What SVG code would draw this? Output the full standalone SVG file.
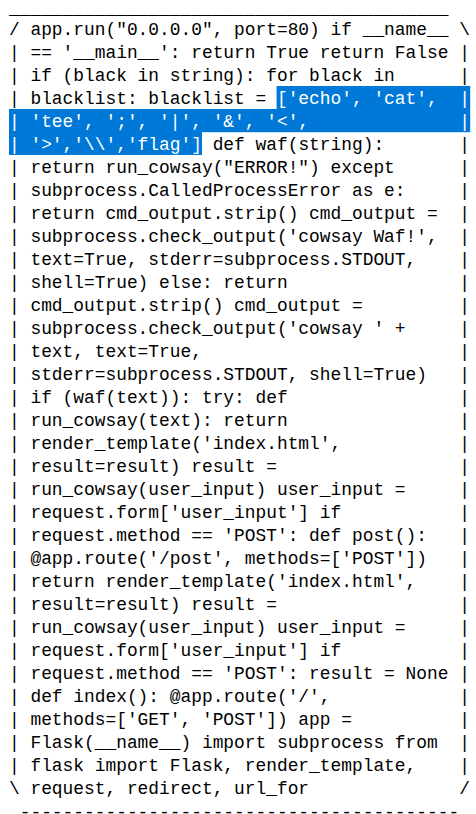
<svg xmlns="http://www.w3.org/2000/svg" width="476" height="814" viewBox="0 0 476 814" xml:space="preserve">
<style>
text { font-family: "Liberation Mono", "DejaVu Sans Mono", monospace; font-size: 17.87px; fill: #000; white-space: pre; }
.w { fill: #fff; }
.sel { fill: #0078D7; }
</style>
<rect x="0" y="0" width="476" height="814" fill="#fff"/>
<g id="selection">
<rect class="sel" x="276.6" y="86" width="193.6" height="23.2"/>
<rect class="sel" x="9" y="109" width="461.2" height="23.2"/>
<rect class="sel" x="9" y="132" width="193" height="23"/>
</g>
<g id="bubble-text">
<text x="9" y="14">_________________________________________</text>
<text x="9" y="35">/ app.run("0.0.0.0", port=80) if __name__</text><text x="459.24" y="35">\</text>
<text x="9" y="58">| == '__main__': return True return False</text><text x="459.24" y="58">|</text>
<text x="9" y="81">| if (black in string): for black in</text><text x="459.24" y="81">|</text>
<text x="9" y="104">| blacklist: blacklist = <tspan class="w">['echo', 'cat',</tspan></text><text class="w" x="459.24" y="104">|</text>
<text class="w" x="9" y="127">| 'tee', ';', '|', '&amp;', '&lt;',</text><text class="w" x="459.24" y="127">|</text>
<text x="9" y="150"><tspan class="w">| '&gt;','\\','flag']</tspan> def waf(string):</text><text x="459.24" y="150">|</text>
<text x="9" y="173">| return run_cowsay("ERROR!") except</text><text x="459.24" y="173">|</text>
<text x="9" y="196">| subprocess.CalledProcessError as e:</text><text x="459.24" y="196">|</text>
<text x="9" y="219">| return cmd_output.strip() cmd_output =</text><text x="459.24" y="219">|</text>
<text x="9" y="242">| subprocess.check_output('cowsay Waf!',</text><text x="459.24" y="242">|</text>
<text x="9" y="265">| text=True, stderr=subprocess.STDOUT,</text><text x="459.24" y="265">|</text>
<text x="9" y="288">| shell=True) else: return</text><text x="459.24" y="288">|</text>
<text x="9" y="311">| cmd_output.strip() cmd_output =</text><text x="459.24" y="311">|</text>
<text x="9" y="334">| subprocess.check_output('cowsay ' +</text><text x="459.24" y="334">|</text>
<text x="9" y="357">| text, text=True,</text><text x="459.24" y="357">|</text>
<text x="9" y="380">| stderr=subprocess.STDOUT, shell=True)</text><text x="459.24" y="380">|</text>
<text x="9" y="403">| if (waf(text)): try: def</text><text x="459.24" y="403">|</text>
<text x="9" y="426">| run_cowsay(text): return</text><text x="459.24" y="426">|</text>
<text x="9" y="449">| render_template('index.html',</text><text x="459.24" y="449">|</text>
<text x="9" y="472">| result=result) result =</text><text x="459.24" y="472">|</text>
<text x="9" y="495">| run_cowsay(user_input) user_input =</text><text x="459.24" y="495">|</text>
<text x="9" y="518">| request.form['user_input'] if</text><text x="459.24" y="518">|</text>
<text x="9" y="541">| request.method == 'POST': def post():</text><text x="459.24" y="541">|</text>
<text x="9" y="564">| @app.route('/post', methods=['POST'])</text><text x="459.24" y="564">|</text>
<text x="9" y="587">| return render_template('index.html',</text><text x="459.24" y="587">|</text>
<text x="9" y="610">| result=result) result =</text><text x="459.24" y="610">|</text>
<text x="9" y="633">| run_cowsay(user_input) user_input =</text><text x="459.24" y="633">|</text>
<text x="9" y="656">| request.form['user_input'] if</text><text x="459.24" y="656">|</text>
<text x="9" y="679">| request.method == 'POST': result = None</text><text x="459.24" y="679">|</text>
<text x="9" y="702">| def index(): @app.route('/',</text><text x="459.24" y="702">|</text>
<text x="9" y="725">| methods=['GET', 'POST']) app =</text><text x="459.24" y="725">|</text>
<text x="9" y="748">| Flask(__name__) import subprocess from</text><text x="459.24" y="748">|</text>
<text x="9" y="771">| flask import Flask, render_template,</text><text x="459.24" y="771">|</text>
<text x="9" y="794">\ request, redirect, url_for</text><text x="459.24" y="794">/</text>
<text x="9" y="818"> -----------------------------------------</text>
</g>
</svg>
